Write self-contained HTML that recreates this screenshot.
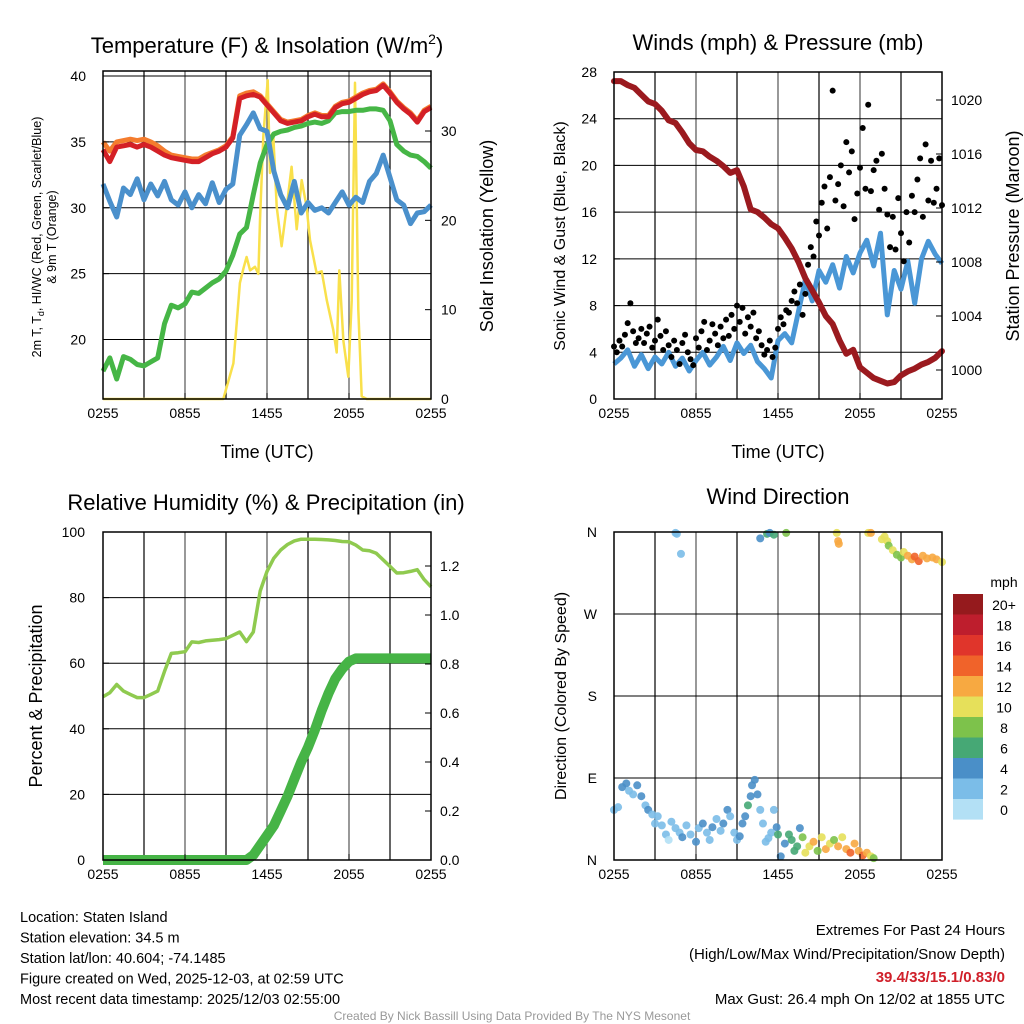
<!DOCTYPE html>
<html><head><meta charset="utf-8"><style>
html,body{margin:0;padding:0;background:#fff;}
svg{display:block;font-family:"Liberation Sans",Arial,sans-serif;}
</style></head><body>
<svg id="s" width="1024" height="1024" viewBox="0 0 1024 1024" xmlns="http://www.w3.org/2000/svg"></svg>
<script>
// ---------- DATA ----------
const halfHours = [0,0.5,1,1.5,2,2.5,3,3.5,4,4.5,5,5.5,6,6.5,7,7.5,8,8.5,9,9.5,10,10.5,11,11.5,12,12.5,13,13.5,14,14.5,15,15.5,16,16.5,17,17.5,18,18.5,19,19.5,20,20.5,21,21.5,22,22.5,23,23.5,24];
const xTickLabels = ["0255","0855","1455","2055","0255"];
const xTickHours = [0,6,12,18,24];
const tempRed = [34.4,33.5,34.6,34.7,34.8,34.6,34.8,34.6,34.3,34.0,33.8,33.7,33.6,33.5,33.5,33.8,34.1,34.3,34.6,35.3,38.3,38.5,38.6,38.4,37.8,37.2,36.6,36.4,36.5,36.6,36.9,37.1,36.9,36.9,37.6,37.9,38.0,38.3,38.6,38.8,38.9,39.3,38.7,38.0,37.5,37.1,36.5,37.3,37.6];
const tempOrange = [35.0,34.3,35.0,35.1,35.2,35.1,35.2,35.0,34.7,34.3,34.0,33.9,33.8,33.7,33.7,34.0,34.2,34.4,34.7,35.4,38.5,38.7,38.8,38.5,37.9,37.3,36.7,36.5,36.6,36.7,37.0,37.2,37.0,37.0,37.7,38.0,38.1,38.4,38.7,38.9,39.0,39.4,38.8,38.1,37.6,37.2,36.6,37.4,37.7];
const dewGreen = [17.6,18.6,17.0,18.7,18.5,18.1,18.0,18.3,18.6,21.2,22.6,22.4,22.7,23.6,23.5,23.9,24.3,24.6,25.2,26.4,28.0,28.5,31.0,33.4,34.8,35.6,35.8,35.9,36.1,36.2,36.4,36.5,36.4,36.6,37.2,37.3,37.3,37.4,37.4,37.5,37.5,37.4,36.6,34.8,34.3,34.0,33.9,33.5,33.0];
const chillBlue = [31.8,30.5,29.3,31.5,31.0,32.2,30.6,31.8,30.9,32.0,30.6,30.2,31.2,30.0,31.0,30.3,31.9,30.4,31.4,31.8,35.5,36.3,37.2,36.0,35.8,32.8,31.0,30.0,32.0,29.6,30.4,29.8,30.0,29.6,30.4,31.2,30.2,30.8,30.4,32.0,32.6,34.0,32.3,30.6,30.2,28.8,29.6,29.7,30.2];
const solarHours = [0,8.8,9.54,9.78,10.02,10.27,10.51,10.76,11.12,11.37,11.49,11.73,12.05,12.22,12.46,12.71,13.07,13.44,13.8,14.17,14.54,14.9,15.15,15.63,16.0,16.37,16.85,17.1,17.29,17.59,17.95,18.2,18.44,18.68,18.93,19.3,24];
const solarValues = [0,0,4.0,8.5,13.0,14.6,15.9,14.4,14.8,14.0,20.0,29.4,35.7,25.3,29.5,21.5,17.1,21.5,26.0,19.0,24.5,21.5,17.8,14.1,14.3,11.1,7.7,5.2,14.4,6.5,2.5,11.0,35.4,10.0,0.3,0,0];
const pressure = [1021.4,1021.4,1021.1,1020.9,1020.4,1019.9,1019.7,1019.2,1018.5,1018.3,1017.6,1016.8,1016.3,1016.2,1015.8,1015.5,1015.1,1014.6,1014.8,1013.6,1011.9,1011.7,1011.3,1010.8,1010.5,1009.8,1009.0,1008.0,1006.8,1005.9,1005.0,1004.0,1003.4,1002.2,1001.2,1001.5,1000.2,999.8,999.4,999.2,999.0,999.1,999.6,999.9,1000.1,1000.4,1000.6,1000.9,1001.4];
const windSpeed = [3.0,3.5,4.2,2.8,3.8,2.6,3.6,3.0,4.0,2.8,3.5,2.4,3.3,4.0,2.9,3.6,4.5,3.3,4.8,3.9,4.6,3.2,2.6,1.8,5.0,5.6,4.8,7.5,10.2,8.4,11.0,10.0,11.5,9.5,12.2,10.8,12.5,13.6,11.4,14.2,7.2,11.0,9.4,11.8,8.2,12.0,13.5,12.4,11.6];
const gustValues = [4.5,4.0,5.0,4.5,5.5,6.5,8.2,5.8,4.8,5.2,6.0,
4.8,5.6,6.2,4.4,5.0,6.8,5.4,4.2,5.8,4.6,
3.6,5.0,4.2,3.0,4.8,5.5,4.0,3.4,2.9,5.2,
4.4,5.8,6.6,4.2,5.0,6.4,5.6,4.6,6.2,5.2,
6.8,5.4,7.2,6.0,8.0,6.6,7.8,5.6,7.0,6.2,
7.4,5.2,5.8,4.6,3.8,4.2,5.0,3.6,4.4,6.0,
7.0,6.4,7.6,7.4,8.4,9.2,8.2,9.8,7.2,9.0,
11.5,13.0,12.2,15.2,14.0,16.8,18.2,14.6,19.0,26.4,
17.0,18.4,20.0,16.5,22.0,19.4,21.2,15.4,17.6,19.8,
23.2,18.0,25.2,17.8,19.6,20.4,16.2,21.0,18.0,15.8,
13.0,15.6,12.8,17.2,14.2,11.8,16.0,13.4,17.4,16.0,
18.8,20.6,15.6,21.8,17.0,20.4,16.8,18.0,20.6,16.6];
const relHum = [49.8,51,53.5,51.5,50.5,49.5,49.5,50.5,51.5,57.5,63,63.2,63.5,66.5,66.3,66.8,67,67.2,67.5,68.5,69.5,66.6,69.5,82,88,92,94.5,96.2,97.3,97.8,97.8,97.8,97.7,97.6,97.4,97.1,97.0,96,94.5,94.3,93.5,91.5,89.5,87.5,87.6,88,88.5,85.5,83.3];
const precip = [0,0,0,0,0,0,0,0,0,0,0,0,0,0,0,0,0,0,0,0,0,0,0.02,0.06,0.1,0.14,0.2,0.26,0.33,0.4,0.46,0.53,0.61,0.68,0.74,0.78,0.81,0.823,0.823,0.823,0.823,0.823,0.823,0.823,0.823,0.823,0.823,0.823,0.823];
const dirHours = [0,0.3,0.6,0.9,1.1,1.4,1.7,2,2.3,2.5,2.8,3,3.2,3.5,3.8,4.0,4.2,4.5,4.8,5,5.3,5.6,6,6.2,6.5,6.8,7,7.2,7.5,7.8,8,8.3,8.5,8.8,9,9.2,9.4,9.6,9.8,10,10.1,10.3,10.5,10.7,10.9,11.1,11.3,11.5,11.7,11.9,12,12.2,12.5,12.8,13,13.2,13.4,13.6,13.8,14,14.3,14.6,14.9,15.2,15.5,15.8,16.1,16.4,16.7,17,17.3,17.6,17.9,18.2,18.5,18.8,19,
4.5,4.6,4.9,10.7,11.2,11.4,11.7,12.6,16.3,16.4,16.45,18.6,18.8,19.6,19.8,20,20.1,20.4,20.7,21,21.2,21.5,21.8,22,22.3,22.6,22.9,23.3,23.6,24];
const dirDegrees = [55,58,80,84,76,72,82,70,60,55,50,40,48,38,28,22,42,35,30,25,38,28,20,35,40,30,22,36,45,32,40,55,48,30,22,26,40,48,60,70,82,88,72,55,40,20,24,30,55,36,28,4,18,28,22,10,15,35,25,8,15,20,10,25,12,18,22,15,25,12,8,18,10,5,8,4,2,
359,358,336,353,358,359,357,359,359,350,347,359,359,352,355,350,345,340,335,332,338,334,330,333,328,334,331,332,330,327];
const dirSpeeds = [2.5,2.5,4,4,3,2,4,4,3,4,3.5,2,3,2,2,1.5,2,3,2,4,2,3,4,2,4,3,2,4,2,3,4,4,3,3,3,4,4,4,6,4,4,4,4,2,2,2,2,2,2,4,6,4,4,6,6,6,7,5,8,10,11,12,9,10,12,11,8,12,10,12,14,12,12,14,12,10,9,
2,2,2,4,6,4,6,8,10,12,12,10,12,10,10,10,8,10,8,8,10,12,12,14,14,12,12,12,12,10];
const speedBinLabels = ["20+","18","16","14","12","10","8","6","4","2","0"];
const speedBinColors = ["#951a1d","#be1e2d","#e0352b","#f0632a","#f7a941","#e6e05a","#7dc24b","#46a875","#4a8fc8","#7bbde8","#b3e0f5"];

// ---------- helpers ----------
const NS="http://www.w3.org/2000/svg";
const svg=document.getElementById('s');
function mk(tag,attrs,parent){const e=document.createElementNS(NS,tag);for(const k in attrs)e.setAttribute(k,attrs[k]);(parent||svg).appendChild(e);return e;}
function txt(str,x,y,size,anchor,parent,extra){const e=mk('text',Object.assign({x:x,y:y,'font-size':size,'text-anchor':anchor||'middle',fill:'#000'},extra||{}),parent);e.textContent=str;return e;}
function lin(d0,d1,r0,r1){return v=>r0+(v-d0)*(r1-r0)/(d1-d0);}
function path(xs,ys,fx,fy){let d='';for(let i=0;i<xs.length;i++){d+=(i?'L':'M')+fx(xs[i]).toFixed(1)+','+fy(ys[i]).toFixed(1);}return d;}

function panel(name,x0,x1,y0,y1){
  const g=mk('g',{});
  
  
  return g;
}
function frame(g,x0,x1,y0,y1,hGrid,fx){
  for(let h=3;h<24;h+=3){const x=fx(h);const l=mk('line',{x1:x,x2:x,y1:y0,y2:y1,stroke:(h%6==0?'#555':'#000'),'stroke-width':1.2},g);
    }
  hGrid.forEach(y=>{const l=mk('line',{x1:x0,x2:x1,y1:y,y2:y,stroke:'#000','stroke-width':1},g);
    });
}
function border(g,x0,x1,y0,y1){const r=mk('rect',{x:x0,y:y0,width:x1-x0,height:y1-y0,fill:'none',stroke:'#000','stroke-width':1.5},g);
  }
function xTicks(g,fx,y1){
  xTickHours.forEach((h,i)=>{const x=fx(h);mk('line',{x1:x,x2:x,y1:y1,y2:y1-6,stroke:'#000'},g);
    const t=txt(xTickLabels[i],x,y1+19,14,'middle',g);});
}

// ---------- Panel 1: Temperature ----------
(function(){
  const x0=103,x1=431,y0=71,y1=399;
  const fx=lin(0,24,x0,x1), fy=lin(20,40,339.5,76), fs=lin(0,30,399,131);
  const g=panel('temperature-panel');
  frame(g,x0,x1,y0,y1,[20,25,30,35,40].map(fy),fx);
  const ys=mk('path',{d:path(solarHours,solarValues,fx,fs),fill:'none',stroke:'#f9e04b','stroke-width':2.5,'stroke-linejoin':'round'},g);
  
  const gl=mk('path',{d:path(halfHours,dewGreen,fx,fy),fill:'none',stroke:'#46b646','stroke-width':5,'stroke-linejoin':'round'},g);
  
  const bl=mk('path',{d:path(halfHours,chillBlue,fx,fy),fill:'none',stroke:'#4a90cc','stroke-width':5,'stroke-linejoin':'round'},g);
  
  const ol=mk('path',{d:path(halfHours,tempOrange,fx,fy),fill:'none',stroke:'#f47c2e','stroke-width':5,'stroke-linejoin':'round'},g);
  
  const rl=mk('path',{d:path(halfHours,tempRed,fx,fy),fill:'none',stroke:'#d42026','stroke-width':5,'stroke-linejoin':'round'},g);
  
  border(g,x0,x1,y0,y1);
  xTicks(g,fx,y1);
  [20,25,30,35,40].forEach(v=>{const y=fy(v);mk('line',{x1:x0,x2:x0+6,y1:y,y2:y,stroke:'#000'},g);const t=txt(String(v),86,y+5,14,'end',g);});
  [0,10,20,30].forEach(v=>{const y=fs(v);mk('line',{x1:x1,x2:x1-6,y1:y,y2:y,stroke:'#000'},g);const t=txt(String(v),441,y+5,14,'start',g);});
  const ti=mk('text',{x:267,y:53,'font-size':22,'text-anchor':'middle'},g);
  ti.innerHTML='Temperature (F) &amp; Insolation (W/m<tspan dy="-9" font-size="14">2</tspan><tspan dy="9">)</tspan>';
  const xl=txt('Time (UTC)',267,458,18,'middle',g);
  const yl=mk('text',{transform:'translate(41,237) rotate(-90)','font-size':12.5,'text-anchor':'middle'},g);
  yl.innerHTML='2m T, T<tspan font-size="9" dy="3">d</tspan><tspan dy="-3">, HI/WC (Red, Green, Scarlet/Blue)</tspan>';
  const yl2=txt('& 9m T (Orange)',0,0,12.5,'middle',g,{transform:'translate(56,237) rotate(-90)'});
  const yr=txt('Solar Insolation (Yellow)',0,0,18,'middle',g,{transform:'translate(493,236) rotate(-90)'});
})();

// ---------- Panel 2: Winds ----------
(function(){
  const x0=614,x1=942,y0=72,y1=399;
  const fx=lin(0,24,x0,x1), fy=lin(0,28,399,72), fp=lin(1000,1020,370,100);
  const g=panel('winds-panel');
  frame(g,x0,x1,y0,y1,[4,8,12,16,20,24].map(fy),fx);
  const wl=mk('path',{d:path(halfHours,windSpeed,fx,fy),fill:'none',stroke:'#4a97d6','stroke-width':5,'stroke-linejoin':'round'},g);
  
  gustValues.forEach((v,i)=>{const c=mk('circle',{cx:fx(i*0.2),cy:fy(v),r:3,fill:'#000'},g);
    });
  const pl=mk('path',{d:path(halfHours,pressure,fx,fp),fill:'none',stroke:'#9b1a1f','stroke-width':6,'stroke-linejoin':'round','stroke-linecap':'round'},g);
  
  border(g,x0,x1,y0,y1);
  xTicks(g,fx,y1);
  [0,4,8,12,16,20,24,28].forEach(v=>{const y=fy(v);mk('line',{x1:x0,x2:x0+6,y1:y,y2:y,stroke:'#000'},g);const t=txt(String(v),597,y+5,14,'end',g);});
  [1000,1004,1008,1012,1016,1020].forEach(v=>{const y=fp(v);mk('line',{x1:x1,x2:x1-6,y1:y,y2:y,stroke:'#000'},g);const t=txt(String(v),951,y+5,14,'start',g);});
  const ti=txt('Winds (mph) & Pressure (mb)',778,50,22,'middle',g);
  const xl=txt('Time (UTC)',778,458,18,'middle',g);
  const yl=txt('Sonic Wind & Gust (Blue, Black)',0,0,16,'middle',g,{transform:'translate(565,236) rotate(-90)'});
  const yr=txt('Station Pressure (Maroon)',0,0,18,'middle',g,{transform:'translate(1019,236) rotate(-90)'});
})();

// ---------- Panel 3: RH & Precip ----------
(function(){
  const x0=103,x1=431,y0=532,y1=860;
  const fx=lin(0,24,x0,x1), fy=lin(0,100,860,532), fp=lin(0,1.2,860,566);
  const g=panel('humidity-panel');
  frame(g,x0,x1,y0,y1,[20,40,60,80].map(fy),fx);
  const pl=mk('path',{d:path(halfHours,precip,fx,fp),fill:'none',stroke:'#46b446','stroke-width':10,'stroke-linejoin':'round'},g);
  
  const rl=mk('path',{d:path(halfHours,relHum,fx,fy),fill:'none',stroke:'#8fca4f','stroke-width':3.5,'stroke-linejoin':'round'},g);
  
  border(g,x0,x1,y0,y1);
  xTicks(g,fx,y1);
  [0,20,40,60,80,100].forEach(v=>{const y=fy(v);mk('line',{x1:x0,x2:x0+6,y1:y,y2:y,stroke:'#000'},g);const t=txt(String(v),85,y+5,14,'end',g);});
  [0,0.2,0.4,0.6,0.8,1.0,1.2].forEach(v=>{const y=fp(v);mk('line',{x1:x1,x2:x1-6,y1:y,y2:y,stroke:'#000'},g);const t=txt(v.toFixed(1),440,y+5,14,'start',g);});
  const ti=txt('Relative Humidity (%) & Precipitation (in)',266,510,22,'middle',g);
  const yl=txt('Percent & Precipitation',0,0,18,'middle',g,{transform:'translate(42,696) rotate(-90)'});
})();

// ---------- Panel 4: Wind direction ----------
(function(){
  const x0=614,x1=942,y0=532,y1=860;
  const fx=lin(0,24,x0,x1), fy=lin(0,360,860,532);
  const g=panel('wind-direction-panel');
  frame(g,x0,x1,y0,y1,[90,180,270].map(fy),fx);
  function binColor(s){let b=Math.min(10,Math.floor(s/2));return speedBinColors[10-b];}
  dirDegrees.forEach((d,i)=>{const c=mk('circle',{cx:fx(dirHours[i]),cy:fy(d),r:4,fill:binColor(dirSpeeds[i]),'fill-opacity':0.9},g);
    });
  border(g,x0,x1,y0,y1);
  xTicks(g,fx,y1);
  ['N','E','S','W','N'].forEach((lab,i)=>{const y=fy(i*90);mk('line',{x1:x0,x2:x0+6,y1:y,y2:y,stroke:'#000'},g);const t=txt(lab,597,y+5,14,'end',g);});
  const ti=txt('Wind Direction',778,504,22,'middle',g);
  const yl=txt('Direction (Colored By Speed)',0,0,16,'middle',g,{transform:'translate(566,696) rotate(-90)'});
  const lg=mk('g',{},g);
  const mp=txt('mph',1004,587,14,'middle',lg);
  speedBinColors.forEach((c,i)=>{const y=594+i*20.5;
    const r=mk('rect',{x:953,y:y,width:30,height:20.6,fill:c},lg);
    const t=txt(speedBinLabels[i],1004,y+16,14,'middle',lg);});
})();

// ---------- Footer text ----------
(function(){
  const g=mk('g',{});
  ['Location: Staten Island','Station elevation: 34.5 m','Station lat/lon: 40.604; -74.1485','Figure created on Wed, 2025-12-03, at 02:59 UTC','Most recent data timestamp: 2025/12/03 02:55:00']
   .forEach((s,i)=>{const t=txt(s,20,922+i*20.5,14.5,'start',g);});
  const h=mk('g',{});
  let t=txt('Extremes For Past 24 Hours',1005,935,15,'end',h);
  t=txt('(High/Low/Max Wind/Precipitation/Snow Depth)',1005,959,15,'end',h);
  t=txt('39.4/33/15.1/0.83/0',1005,982,15,'end',h,{fill:'#d0202a','font-weight':'bold'});
  t=txt('Max Gust: 26.4 mph On 12/02 at 1855 UTC',1005,1004,15,'end',h);
  t=txt('Created By Nick Bassill Using Data Provided By The NYS Mesonet',512,1020,12,'middle',null,{fill:'#999'});
})();
</script>
</body></html>
